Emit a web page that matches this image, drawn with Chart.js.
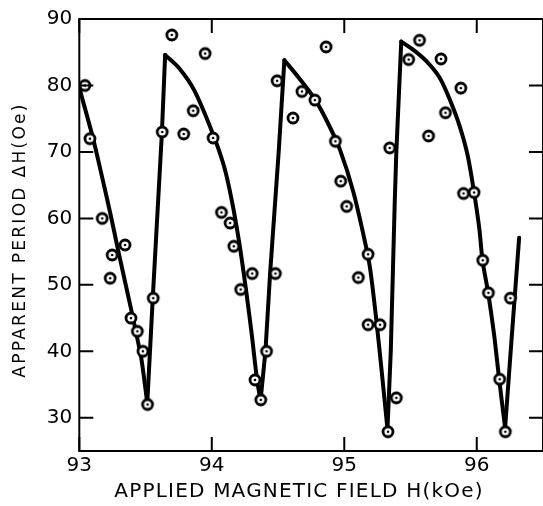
<!DOCTYPE html>
<html>
<head>
<meta charset="utf-8">
<script src="https://cdn.jsdelivr.net/npm/chart.js@4"></script>
<style>
  html, body { margin: 0; padding: 0; background: #fff; overflow: hidden; }
  #wrap { width: 550px; height: 506px; }
</style>
</head>
<body>
<div id="wrap"><canvas id="fieldChart" width="550" height="506"></canvas></div>
<script>
// measured points: applied field H (kOe) and apparent period dH (Oe)
var fieldH = [93.043, 93.08, 93.173, 93.233, 93.248, 93.345, 93.39, 93.438, 93.48, 93.515,
  93.558, 93.626, 93.698, 93.788, 93.86, 93.95, 94.01, 94.073, 94.138, 94.166,
  94.218, 94.305, 94.326, 94.37, 94.413, 94.48, 94.493, 94.613, 94.68, 94.778,
  94.863, 94.933, 94.973, 95.018, 95.106, 95.18, 95.18, 95.27, 95.33, 95.343,
  95.393, 95.486, 95.568, 95.636, 95.73, 95.764, 95.88, 95.9, 95.98, 96.045,
  96.088, 96.173, 96.216, 96.254];
var periodDH = [80, 72, 60, 51, 54.5, 56, 45, 43, 40, 32,
  48, 73, 87.6, 72.7, 76.2, 84.8, 72.1, 60.9, 59.3, 55.8,
  49.3, 51.7, 35.7, 32.7, 40, 51.7, 80.7, 75.1, 79.1, 77.8,
  85.8, 71.6, 65.6, 61.8, 51.1, 54.6, 44, 44, 27.9, 70.6,
  33, 83.9, 86.8, 72.4, 84, 75.9, 79.6, 63.75, 63.9, 53.7,
  48.8, 35.8, 27.9, 48];

// fitted sawtooth curve
var curveH = [93.005, 93.103, 93.17, 93.238, 93.29, 93.335, 93.388, 93.433, 93.47, 93.513,
  93.555, 93.623, 93.648,
  93.754, 93.867, 94.005, 94.093, 94.153, 94.206, 94.258, 94.303, 94.341, 94.368,
  94.405, 94.44, 94.505, 94.548,
  94.655, 94.779, 94.88, 94.968, 95.068, 95.156, 95.196, 95.243, 95.286, 95.326,
  95.351, 95.381, 95.393, 95.43,
  95.519, 95.618, 95.719, 95.794, 95.869, 95.931, 95.981, 96.019, 96.044, 96.086, 96.131, 96.169, 96.214,
  96.256, 96.32];
var curveDH = [79.3, 72.1, 66.4, 60.4, 55.5, 51.4, 46.6, 42.4, 38.7, 32.2,
  48.2, 72.7, 84.6,
  82.6, 79.3, 72.9, 67.8, 62.5, 56.5, 49.3, 42.3, 35.8, 32.6,
  40, 51.7, 70, 83.8,
  81.2, 77.9, 74.2, 70.3, 64, 56.5, 52.3, 44.5, 36.3, 28.3,
  40, 62.5, 70, 86.6,
  85.4, 83.7, 81.2, 78, 74, 69.5, 63.75, 58.5, 53.6, 48.8, 42.5, 35.8, 28.5,
  40, 57.1];
// indices in the curve where it turns (troughs and peaks)
var cusps = [0, 9, 12, 22, 26, 36, 40, 53, 55];

var xTicks = [93, 94, 95, 96];
var yTicks = [30, 40, 50, 60, 70, 80, 90];

var xTitle = 'APPLIED MAGNETIC FIELD H(kOe)';
var yTitle = 'APPARENT PERIOD \u0394H(Oe)';

var points = fieldH.map(function(h, i) { return {x: h, y: periodDH[i]}; });

// open circle with a dot in the middle
function makeMarker() {
  var c = document.createElement('canvas');
  c.width = 18; c.height = 18;
  var g = c.getContext('2d');
  g.beginPath();
  g.arc(9, 9, 5, 0, Math.PI * 2);
  g.fillStyle = '#fff';
  g.fill();
  g.lineWidth = 2.8;
  g.strokeStyle = '#000';
  g.stroke();
  g.beginPath();
  g.arc(9, 9, 1.3, 0, Math.PI * 2);
  g.fillStyle = '#000';
  g.fill();
  return c;
}

// falling arcs are smoothed, the jumps back up are straight strokes
var curveSets = [];
for (var k = 0; k < cusps.length - 1; k++) {
  var seg = [];
  for (var i = cusps[k]; i <= cusps[k + 1]; i++) seg.push({x: curveH[i], y: curveDH[i]});
  var falling = curveDH[cusps[k + 1]] < curveDH[cusps[k]];
  curveSets.push({
    type: 'line',
    data: seg,
    showLine: true,
    borderColor: '#000',
    borderWidth: 4,
    pointRadius: 0,
    tension: falling ? 0.3 : 0,
    borderCapStyle: 'round',
    borderJoinStyle: 'round',
    order: 1
  });
}

// box frame, inward ticks on all four sides, and the axis titles
var framePlugin = {
  id: 'frame',
  afterDraw: function(chart) {
    var ctx = chart.ctx;
    var a = chart.chartArea;
    var xs = chart.scales.x, ys = chart.scales.y;
    ctx.save();
    ctx.strokeStyle = '#000';
    ctx.lineWidth = 2;
    ctx.strokeRect(a.left, a.top, a.right - a.left, a.bottom - a.top);
    var len = 14;
    ctx.beginPath();
    xTicks.forEach(function(v) {
      var px = xs.getPixelForValue(v);
      ctx.moveTo(px, a.bottom); ctx.lineTo(px, a.bottom - len);
      ctx.moveTo(px, a.top); ctx.lineTo(px, a.top + len);
    });
    yTicks.forEach(function(v) {
      var py = ys.getPixelForValue(v);
      ctx.moveTo(a.left, py); ctx.lineTo(a.left + len, py);
      ctx.moveTo(a.right, py); ctx.lineTo(a.right - len, py);
    });
    ctx.stroke();

    ctx.fillStyle = '#000';
    ctx.textAlign = 'center';
    ctx.textBaseline = 'middle';
    ctx.font = '20px "DejaVu Sans"';
    ctx.letterSpacing = '1.2px';
    ctx.fillText(xTitle, 299, 492);
    ctx.translate(21, 240);
    ctx.rotate(-Math.PI / 2);
    ctx.font = '17px "DejaVu Sans"';
    ctx.letterSpacing = '2.3px';
    ctx.fillText(yTitle, 0, 0);
    ctx.restore();
  }
};

var chart = new Chart(document.getElementById('fieldChart'), {
  type: 'scatter',
  data: {
    datasets: [{
      label: 'measured',
      data: points,
      pointStyle: makeMarker(),
      pointRadius: 6,
      order: 0
    }].concat(curveSets)
  },
  options: {
    responsive: false,
    animation: false,
    layout: { padding: { top: 16, right: 4, left: 0, bottom: 0 } },
    plugins: { legend: { display: false }, tooltip: { enabled: false } },
    scales: {
      x: {
        type: 'linear',
        min: 93, max: 96.5,
        grid: { display: false, drawTicks: false },
        border: { display: false },
        afterBuildTicks: function(s) { s.ticks = xTicks.map(function(v) { return {value: v}; }); },
        afterFit: function(s) { s.height = 55; },
        ticks: { color: '#000', padding: 3, maxRotation: 0, font: { family: 'DejaVu Sans', size: 20 } }
      },
      y: {
        min: 25, max: 90,
        grid: { display: false, drawTicks: false },
        border: { display: false },
        afterBuildTicks: function(s) { s.ticks = yTicks.map(function(v) { return {value: v}; }); },
        afterFit: function(s) { s.width = 79.3; },
        ticks: { color: '#000', padding: 7, font: { family: 'DejaVu Sans', size: 20 } }
      }
    }
  },
  plugins: [framePlugin]
});
</script>
</body>
</html>
